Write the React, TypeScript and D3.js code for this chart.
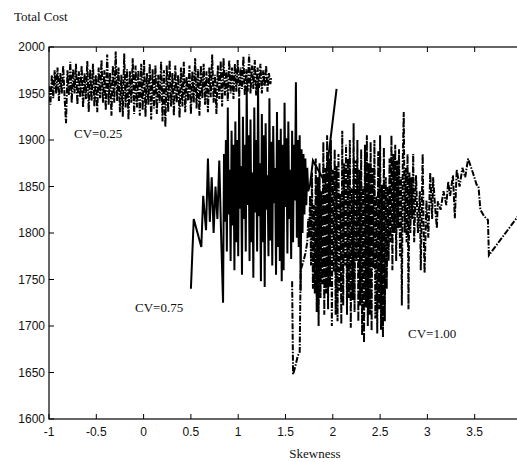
import React from "react";
import * as d3 from "d3";

const xTicks = [-1, -0.5, 0, 0.5, 1, 1.5, 2, 2.5, 3, 3.5, 4];
const xTickLabels = ["-1", "-0.5", "0", "0.5", "1", "1.5", "2", "2.5", "3", "3.5", ""];
const yTicks = [1600, 1650, 1700, 1750, 1800, 1850, 1900, 1950, 2000];

// CV = 0.25 (dash-dot)
const cv25: [number, number][] = [
  [-1.0, 1958], [-0.985, 1938], [-0.97, 1970], [-0.955, 1945], [-0.94, 1975], [-0.925, 1950], [-0.91, 1978], [-0.895, 1942],
  [-0.88, 1972], [-0.865, 1950], [-0.85, 1980], [-0.835, 1945], [-0.82, 1918], [-0.805, 1975], [-0.79, 1948], [-0.775, 1984],
  [-0.76, 1940], [-0.745, 1976], [-0.73, 1950], [-0.715, 1982], [-0.7, 1938], [-0.685, 1974], [-0.67, 1946], [-0.655, 1980],
  [-0.64, 1935], [-0.625, 1972], [-0.61, 1944], [-0.595, 1985], [-0.58, 1930], [-0.565, 1976], [-0.55, 1942], [-0.535, 1982],
  [-0.52, 1936], [-0.505, 1970], [-0.49, 1930], [-0.475, 1978], [-0.46, 1945], [-0.445, 1986], [-0.43, 1940], [-0.415, 1975],
  [-0.4, 1932], [-0.385, 1992], [-0.37, 1938], [-0.355, 1972], [-0.34, 1926], [-0.325, 1980], [-0.31, 1940], [-0.295, 1995],
  [-0.28, 1942], [-0.265, 1978], [-0.25, 1930], [-0.235, 1970], [-0.22, 1925], [-0.205, 1993], [-0.19, 1935], [-0.175, 1976],
  [-0.16, 1922], [-0.145, 1974], [-0.13, 1940], [-0.115, 1988], [-0.1, 1928], [-0.085, 1980], [-0.07, 1935], [-0.055, 1975],
  [-0.04, 1926], [-0.025, 1982], [-0.01, 1932], [0.005, 1986], [0.02, 1925], [0.035, 1972], [0.05, 1938], [0.065, 1982],
  [0.08, 1922], [0.095, 1976], [0.11, 1934], [0.125, 1980], [0.14, 1928], [0.155, 1970], [0.17, 1940], [0.185, 1984],
  [0.2, 1920], [0.215, 1975], [0.23, 1914], [0.245, 1980], [0.26, 1930], [0.275, 1986], [0.29, 1936], [0.305, 1972],
  [0.32, 1926], [0.335, 1980], [0.35, 1940], [0.365, 1970], [0.38, 1924], [0.395, 1978], [0.41, 1936], [0.425, 1984],
  [0.44, 1930], [0.455, 1968], [0.47, 1942], [0.485, 1980], [0.5, 1928], [0.515, 1974], [0.53, 1940], [0.545, 1988],
  [0.56, 1934], [0.575, 1976], [0.59, 1926], [0.605, 1980], [0.62, 1945], [0.635, 1982], [0.65, 1938], [0.665, 1974],
  [0.68, 1930], [0.695, 1978], [0.71, 1946], [0.725, 1992], [0.74, 1940], [0.755, 1970], [0.77, 1928], [0.785, 1980],
  [0.8, 1944], [0.815, 1985], [0.83, 1936], [0.845, 1988], [0.86, 1948], [0.875, 1975], [0.89, 1942], [0.905, 1986],
  [0.92, 1950], [0.935, 1978], [0.95, 1944], [0.965, 1982], [0.98, 1952], [0.995, 1986], [1.01, 1946], [1.025, 1978],
  [1.04, 1955], [1.055, 1990], [1.07, 1948], [1.085, 1976], [1.1, 1952], [1.115, 1992], [1.13, 1950], [1.145, 1980],
  [1.16, 1955], [1.175, 1986], [1.19, 1948], [1.205, 1978], [1.22, 1956], [1.235, 1982], [1.25, 1950], [1.265, 1975],
  [1.28, 1958], [1.295, 1980], [1.31, 1952], [1.325, 1972], [1.34, 1960], [1.35, 1968],
];

// CV = 0.75 (solid)
const cv75: [number, number][] = [
  [0.5, 1740], [0.53, 1815], [0.61, 1785], [0.63, 1840], [0.66, 1803], [0.68, 1880], [0.7, 1812], [0.72, 1860],
  [0.74, 1800], [0.76, 1850], [0.78, 1815], [0.8, 1878], [0.82, 1795], [0.84, 1725], [0.85, 1885], [0.86, 1812],
  [0.87, 1900], [0.88, 1780], [0.89, 1935], [0.9, 1820], [0.91, 1868], [0.92, 1770], [0.93, 1910], [0.94, 1808],
  [0.95, 1895], [0.96, 1760], [0.97, 1920], [0.98, 1790], [0.99, 1900], [1.0, 1775], [1.01, 1945], [1.02, 1826],
  [1.03, 1872], [1.04, 1755], [1.05, 1925], [1.06, 1815], [1.07, 1895], [1.08, 1780], [1.09, 1958], [1.1, 1830],
  [1.11, 1905], [1.12, 1770], [1.13, 1922], [1.14, 1790], [1.15, 1865], [1.16, 1752], [1.17, 1935], [1.18, 1822],
  [1.19, 1900], [1.2, 1780], [1.21, 1962], [1.22, 1818], [1.23, 1875], [1.24, 1748], [1.25, 1928], [1.26, 1790],
  [1.27, 1905], [1.28, 1742], [1.29, 1918], [1.3, 1825], [1.31, 1862], [1.32, 1775], [1.33, 1945], [1.34, 1792],
  [1.35, 1898], [1.36, 1765], [1.37, 1915], [1.38, 1832], [1.39, 1870], [1.4, 1755], [1.41, 1930], [1.42, 1785],
  [1.43, 1900], [1.44, 1770], [1.45, 1912], [1.46, 1748], [1.47, 1895], [1.48, 1760], [1.49, 1940], [1.5, 1828],
  [1.51, 1902], [1.52, 1778], [1.53, 1920], [1.54, 1815], [1.55, 1868], [1.56, 1772], [1.57, 1910], [1.58, 1790],
  [1.59, 1895], [1.6, 1835], [1.61, 1962], [1.62, 1795], [1.63, 1900], [1.64, 1785], [1.65, 1905], [1.66, 1738],
  [1.67, 1890], [1.68, 1800], [1.69, 1885], [1.7, 1820], [1.71, 1880], [1.72, 1830], [1.73, 1870], [1.74, 1845],
  [1.76, 1852], [1.79, 1878], [1.92, 1854], [2.04, 1955],
];

// CV = 1.00 (dash-dot)
const cv100: [number, number][] = [
  [1.57, 1748], [1.58, 1648], [1.6, 1655], [1.63, 1668], [1.65, 1672], [1.66, 1760], [1.69, 1770], [1.71, 1778],
  [1.73, 1790], [1.74, 1815], [1.75, 1795], [1.76, 1840], [1.77, 1765], [1.78, 1865], [1.79, 1740], [1.8, 1830],
  [1.81, 1735], [1.82, 1880], [1.83, 1715], [1.84, 1860], [1.85, 1700], [1.86, 1875], [1.87, 1730], [1.88, 1845],
  [1.89, 1745], [1.9, 1898], [1.91, 1712], [1.92, 1870], [1.93, 1735], [1.94, 1905], [1.95, 1718], [1.96, 1880],
  [1.97, 1742], [1.98, 1900], [1.99, 1700], [2.0, 1868], [2.01, 1758], [2.02, 1890], [2.03, 1712], [2.04, 1872],
  [2.05, 1705], [2.06, 1885], [2.07, 1738], [2.08, 1842], [2.09, 1702], [2.1, 1910], [2.11, 1722], [2.12, 1875],
  [2.13, 1765], [2.14, 1895], [2.15, 1712], [2.16, 1880], [2.17, 1730], [2.18, 1900], [2.19, 1698], [2.2, 1848],
  [2.21, 1728], [2.22, 1918], [2.23, 1715], [2.24, 1878], [2.25, 1770], [2.26, 1900], [2.27, 1705], [2.28, 1868],
  [2.29, 1722], [2.3, 1890], [2.31, 1690], [2.32, 1850], [2.33, 1682], [2.34, 1895], [2.35, 1720], [2.36, 1905],
  [2.37, 1700], [2.38, 1875], [2.39, 1712], [2.4, 1898], [2.41, 1695], [2.42, 1870], [2.43, 1762], [2.44, 1900],
  [2.45, 1708], [2.46, 1840], [2.47, 1692], [2.48, 1888], [2.49, 1718], [2.5, 1905], [2.51, 1696], [2.52, 1852],
  [2.53, 1688], [2.54, 1892], [2.55, 1705], [2.56, 1860], [2.57, 1740], [2.58, 1850], [2.59, 1770], [2.6, 1880],
  [2.61, 1790], [2.62, 1905], [2.63, 1760], [2.64, 1885], [2.65, 1800], [2.66, 1895], [2.67, 1770], [2.68, 1878],
  [2.69, 1805], [2.7, 1890], [2.71, 1775], [2.72, 1860], [2.73, 1722], [2.74, 1880], [2.75, 1930], [2.76, 1800],
  [2.77, 1870], [2.78, 1790], [2.79, 1885], [2.8, 1718], [2.81, 1865], [2.82, 1800], [2.83, 1860], [2.84, 1815],
  [2.85, 1885], [2.86, 1790], [2.88, 1862], [2.9, 1800], [2.92, 1845], [2.93, 1760], [2.95, 1885], [2.96, 1805],
  [2.97, 1757], [2.99, 1835], [3.01, 1795], [3.03, 1865], [3.05, 1815], [3.06, 1860], [3.08, 1830], [3.1, 1805],
  [3.11, 1834], [3.14, 1825], [3.17, 1845], [3.2, 1830], [3.22, 1855], [3.24, 1840], [3.27, 1862], [3.29, 1816],
  [3.31, 1868], [3.34, 1850], [3.37, 1870], [3.4, 1860], [3.43, 1880], [3.48, 1865], [3.52, 1852], [3.54, 1850],
  [3.56, 1825], [3.6, 1818], [3.64, 1814], [3.65, 1776], [3.95, 1817], [4.0, 1822],
];

const W = 517;
const H = 462;
const left = 49;
const right = 522;
const top = 47;
const bottom = 419;

export default function App() {
  const x = d3.scaleLinear().domain([-1, 4]).range([left, right]);
  const y = d3.scaleLinear().domain([1600, 2000]).range([bottom, top]);
  const line = d3
    .line<[number, number]>()
    .x((d) => x(d[0]))
    .y((d) => y(d[1]));
  const tickLen = 5;
  const sans = "Liberation Sans, Arial, sans-serif";
  const serif = "Liberation Serif, Times New Roman, serif";
  return (
    <svg
      width={W}
      height={H}
      style={{ position: "absolute", left: 0, top: 0, background: "#fff" }}
    >
      <defs>
        <clipPath id="plot">
          <rect x={left} y={top} width={right - left} height={bottom - top} />
        </clipPath>
      </defs>
      <rect x={0} y={0} width={W} height={H} fill="#fff" />
      <g clipPath="url(#plot)" fill="none" stroke="#000" strokeLinejoin="miter">
        <path d={line(cv25) || ""} strokeWidth={2} strokeDasharray="6,1.5,1.5,1.5" />
        <path d={line(cv100) || ""} strokeWidth={2} strokeDasharray="6,1.5,1.5,1.5" />
        <path d={line(cv75) || ""} strokeWidth={2} />
      </g>
      <rect x={left} y={top} width={right - left} height={bottom - top} fill="none" stroke="#000" strokeWidth={1.2} />
      {xTicks.map((t, i) => (
        <g key={"x" + t}>
          <line x1={x(t)} x2={x(t)} y1={bottom} y2={bottom - tickLen} stroke="#000" />
          <line x1={x(t)} x2={x(t)} y1={top} y2={top + tickLen} stroke="#000" />
          {xTickLabels[i] !== "" && (
            <text x={x(t)} y={436} textAnchor="middle" fontFamily={sans} fontSize={12} fill="#111">
              {xTickLabels[i]}
            </text>
          )}
        </g>
      ))}
      {yTicks.map((t) => (
        <g key={"y" + t}>
          <line x1={left} x2={left + tickLen} y1={y(t)} y2={y(t)} stroke="#000" />
          <line x1={right} x2={right - tickLen} y1={y(t)} y2={y(t)} stroke="#000" />
          <text x={45} y={y(t) + 4} textAnchor="end" fontFamily={sans} fontSize={12} fill="#111">
            {t}
          </text>
        </g>
      ))}
      <text x={14} y={21} fontFamily={serif} fontSize={13} fill="#111">
        Total Cost
      </text>
      <text x={315} y={458} textAnchor="middle" fontFamily={serif} fontSize={13} fill="#111">
        Skewness
      </text>
      <text x={74} y={138} fontFamily={serif} fontSize={13} fill="#111">
        CV=0.25
      </text>
      <text x={135} y={312} fontFamily={serif} fontSize={13} fill="#111">
        CV=0.75
      </text>
      <text x={408} y={338} fontFamily={serif} fontSize={13} fill="#111">
        CV=1.00
      </text>
    </svg>
  );
}
